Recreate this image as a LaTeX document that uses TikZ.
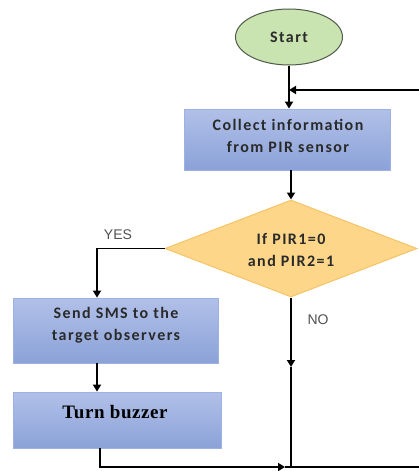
\documentclass[tikz,border=0pt]{standalone}
\usepackage{fontspec}
\setmainfont{Carlito}
\newfontfamily\boxf[LetterSpace=9]{Carlito}
\newfontfamily\timesf[LetterSpace=3]{Liberation Serif}
\newfontfamily\lblf{Liberation Sans}
\usetikzlibrary{arrows.meta,shapes.geometric}
\definecolor{startfill}{HTML}{C9E3B1}
\definecolor{startdraw}{HTML}{4F5A49}
\definecolor{boxtop}{HTML}{B1C0E8}
\definecolor{boxbot}{HTML}{8BA2D8}
\definecolor{boxdraw}{HTML}{9CB2E2}
\definecolor{decfill}{HTML}{FDD68A}
\definecolor{decdraw}{HTML}{F6C466}
\definecolor{txt}{HTML}{2A2A2A}
\definecolor{lbl}{HTML}{505050}
\begin{document}
\begin{tikzpicture}[x=1pt,y=-1pt,
  flow/.style={line width=1.8pt,-{Triangle[width=8pt,length=7pt]}},
  plain/.style={line width=1.8pt},
  box/.style={draw=boxdraw,line width=0.8pt,top color=boxtop,bottom color=boxbot,inner sep=0pt},
  btxt/.style={font=\boxf\fontsize{16}{22}\selectfont\bfseries,text=txt,align=center,inner sep=0pt},
  lbltxt/.style={font=\lblf\fontsize{14}{16}\selectfont,text=lbl,inner sep=0pt}
]
\useasboundingbox (0,0) rectangle (419,471);
% nodes
\node[ellipse,draw=startdraw,fill=startfill,line width=1pt,minimum width=107pt,minimum height=56pt,inner sep=0pt,btxt] (start) at (289,37) {Start};
\node[box,minimum width=206pt,minimum height=61pt] (collect) at (287,139.5) {};
\node[btxt] (collectT) at (288,136) {Collect information\\from PIR sensor};
\node[diamond,draw=decdraw,fill=decfill,line width=1pt,minimum width=252pt,minimum height=97pt,inner sep=0pt,aspect=2.6] (dec) at (291,248.5) {};
\node[btxt] (decT) at (291,250) {If PIR1=0\\and PIR2=1};
\node[box,minimum width=205pt,minimum height=65pt] (sms) at (115.5,330.5) {};
\node[btxt] (smsT) at (116,325.5) {Send SMS to the\\target observers};
\node[box,minimum width=208pt,minimum height=56pt] (buzz) at (117,420) {};
\node[font=\timesf\fontsize{19}{21}\selectfont\bfseries,text=black,inner sep=0pt] (buzzT) at (115,412) {Turn buzzer};
\node[lbltxt] (yes) at (118,235) {YES};
\node[lbltxt] (no) at (318,320) {NO};
% coordinates
\coordinate (rin) at (419,90);
\coordinate (yc) at (97,248.5);
\coordinate (nmid) at (291,367);
\coordinate (bot) at (291,467);
\coordinate (bl) at (100,467);
\coordinate (barr) at (285,467);
\coordinate (rout) at (419,467);
% connectors
\draw[flow] (start.south) -- (collect.north -| start.south);
\draw[flow] (rin) -- (rin -| start.south);
\draw[flow] (collect.south -| dec.north) -- (dec.north);
\draw[flow] (dec.west) -- (yc) -- (yc |- sms.north);
\draw[flow] (dec.south) -- (nmid);
\draw[plain] (nmid) -- (bot);
\draw[flow] (sms.south -| yc) -- (buzz.north -| yc);
\draw[flow] (buzz.south -| bl) -- (bl) -- (barr);
\draw[plain] (barr) -- (rout);
\end{tikzpicture}
\end{document}
